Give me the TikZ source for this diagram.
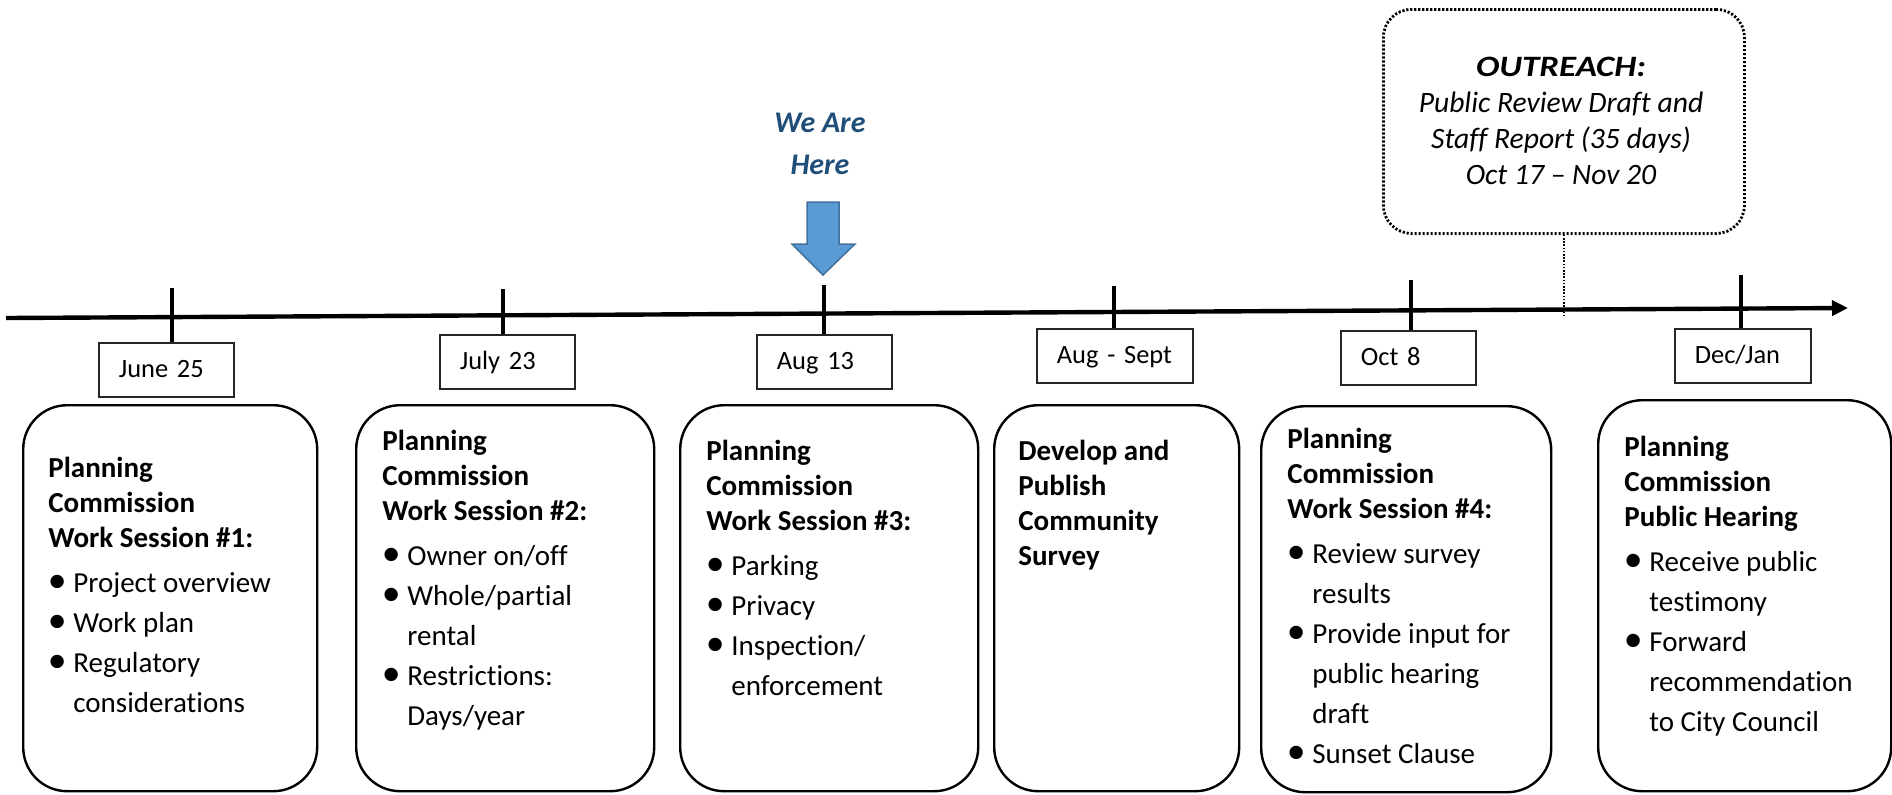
\documentclass[tikz,border=0pt]{standalone}
\usepackage{fontspec}
\setmainfont{Carlito}[Ligatures=NoCommon]
\usetikzlibrary{arrows.meta}

\definecolor{herecol}{HTML}{1F4E79}
\definecolor{arrfill}{HTML}{5B9BD5}
\definecolor{arredge}{HTML}{41719C}

% text helpers for the session boxes
\newcommand\bodyfont{\fontsize{14.5}{17.5}\selectfont}
\newcommand\bigdot{\rlap{\scalebox{1.3}{\textbullet}}}
\newcommand\bul[1]{\makebox[12.5pt][l]{\hspace*{-0.3pt}\bigdot}#1}
\newcommand\cont[1]{\hspace*{12.5pt}#1}
\newcommand\boxtext[1]{\parbox[t]{140pt}{\bodyfont\raggedright #1}}

\tikzset{
  bigbox/.style={draw, line width=1.2pt, rounded corners=22pt, inner sep=0pt, anchor=north west},
  datebox/.style={draw=black!85, line width=0.9pt, anchor=north west, inner xsep=10pt, inner ysep=0pt,
    text height=17.5pt, text depth=9.5pt, text width=#1, align=left,
    font=\fontsize{13.2}{16}\selectfont},
  datebox/.default=47.5pt,
  tick/.style={line width=2pt},
  boxlabel/.style={anchor=base west, inner sep=0pt},
}

\begin{document}
\begin{tikzpicture}[x=0.5pt, y=-0.5pt]
\useasboundingbox (0,0) rectangle (1892,794);
\fill[white] (0,0) rectangle (1892,794);

% timeline
\coordinate (tl0) at (6,318);
\coordinate (tl1) at (1848,308);
\draw[line width=2.2pt, -{Triangle[length=8pt, width=7.5pt]}] (tl0) -- (tl1);

% date boxes
\node[datebox] (d1) at (98,342) {June 25};
\node[datebox] (d2) at (439,334) {July 23};
\node[datebox] (d3) at (756,334) {Aug 13};
\node[datebox=58pt] (d4) at (1036,328) {Aug - Sept};
\node[datebox] (d5) at (1340,330) {Oct 8};
\node[datebox=48pt] (d6) at (1674,328) {Dec/Jan};

% ticks across the timeline
\coordinate (t1) at (172,288);
\coordinate (t2) at (503,289);
\coordinate (t3) at (824,285);
\coordinate (t4) at (1114,286);
\coordinate (t5) at (1411,280);
\coordinate (t6) at (1741,275);
\draw[tick] (t1) -- (t1 |- d1.north);
\draw[tick] (t2) -- (t2 |- d2.north);
\draw[tick] (t3) -- (t3 |- d3.north);
\draw[tick] (t4) -- (t4 |- d4.north);
\draw[tick] (t5) -- (t5 |- d5.north);
\draw[tick] (t6) -- (t6 |- d6.north);

% session boxes
\node[bigbox, minimum width=147pt, minimum height=193pt] (b1) at (22,404) {};
\node[bigbox, minimum width=149pt, minimum height=193pt] (b2) at (355,404) {};
\node[bigbox, minimum width=149pt, minimum height=193pt] (b3) at (679,404) {};
\node[bigbox, minimum width=122.5pt, minimum height=193pt] (b4) at (993,404) {};
\node[bigbox, minimum width=145pt, minimum height=193pt] (b5) at (1260,405) {};
\node[bigbox, minimum width=146.5pt, minimum height=195.5pt] (b6) at (1597,399) {};

\node[boxlabel] (b1t) at (48,477) {\boxtext{%
  \textbf{Planning}\\ \textbf{Commission}\\ \textbf{Work Session \#1:}\\[5pt]
  \bul{Project overview}\\[2.5pt]
  \bul{Work plan}\\[2.5pt]
  \bul{Regulatory}\\[2.5pt]
  \cont{considerations}}};

\node[boxlabel] (b2t) at (382,450) {\boxtext{%
  \textbf{Planning}\\ \textbf{Commission}\\ \textbf{Work Session \#2:}\\[5pt]
  \bul{Owner on/off}\\[2.5pt]
  \bul{Whole/partial}\\[2.5pt]
  \cont{rental}\\[2.5pt]
  \bul{Restrictions:}\\[2.5pt]
  \cont{Days/year}}};

\node[boxlabel] (b3t) at (706,460) {\boxtext{%
  \textbf{Planning}\\ \textbf{Commission}\\ \textbf{Work Session \#3:}\\[5pt]
  \bul{Parking}\\[2.5pt]
  \bul{Privacy}\\[2.5pt]
  \bul{Inspection/}\\[2.5pt]
  \cont{enforcement}}};

\node[boxlabel] (b4t) at (1018,460) {\boxtext{%
  \textbf{Develop and}\\ \textbf{Publish}\\ \textbf{Community}\\ \textbf{Survey}}};

\node[boxlabel] (b5t) at (1287,448) {\boxtext{%
  \textbf{Planning}\\ \textbf{Commission}\\ \textbf{Work Session \#4:}\\[5pt]
  \bul{Review survey}\\[2.5pt]
  \cont{results}\\[2.5pt]
  \bul{Provide input for}\\[2.5pt]
  \cont{public hearing}\\[2.5pt]
  \cont{draft}\\[2.5pt]
  \bul{Sunset Clause}}};

\node[boxlabel] (b6t) at (1624,456) {\boxtext{%
  \textbf{Planning}\\ \textbf{Commission}\\ \textbf{Public Hearing}\\[5pt]
  \bul{Receive public}\\[2.5pt]
  \cont{testimony}\\[2.5pt]
  \bul{Forward}\\[2.5pt]
  \cont{recommendation}\\[2.5pt]
  \cont{to City Council}}};

% current position marker
\node[anchor=base, inner sep=0pt, text=herecol] (here) at (820,132)
  {\parbox[t]{80pt}{\centering\fontsize{15}{21}\selectfont\bfseries\itshape We Are\\ Here}};
\draw[fill=arrfill, draw=arredge, line width=0.75pt]
  (807,202) -- (839,202) -- (839,244) -- (855,244) -- (823,275) -- (792,244) -- (807,244) -- cycle;

% outreach period
\node[draw, line width=1.4pt, dash pattern=on 1.1pt off 0.9pt, rounded corners=14pt,
      minimum width=180.5pt, minimum height=112pt, inner sep=0pt, anchor=north west] (out) at (1382,8) {};
\node[anchor=base, inner sep=0pt] (outt) at (1561,76)
  {\parbox[t]{175pt}{\centering\fontsize{14.8}{18}\selectfont\itshape
   \scalebox{1.18}[1]{\textbf{OUTREACH:}}\\ Public Review Draft and\\ Staff Report (35 days)\\ Oct 17 – Nov 20}};
\coordinate (outfoot) at (1564,318);
\draw[line width=0.8pt, dash pattern=on 0.8pt off 0.8pt] (out.south) -- (out.south |- outfoot);

\end{tikzpicture}
\end{document}
